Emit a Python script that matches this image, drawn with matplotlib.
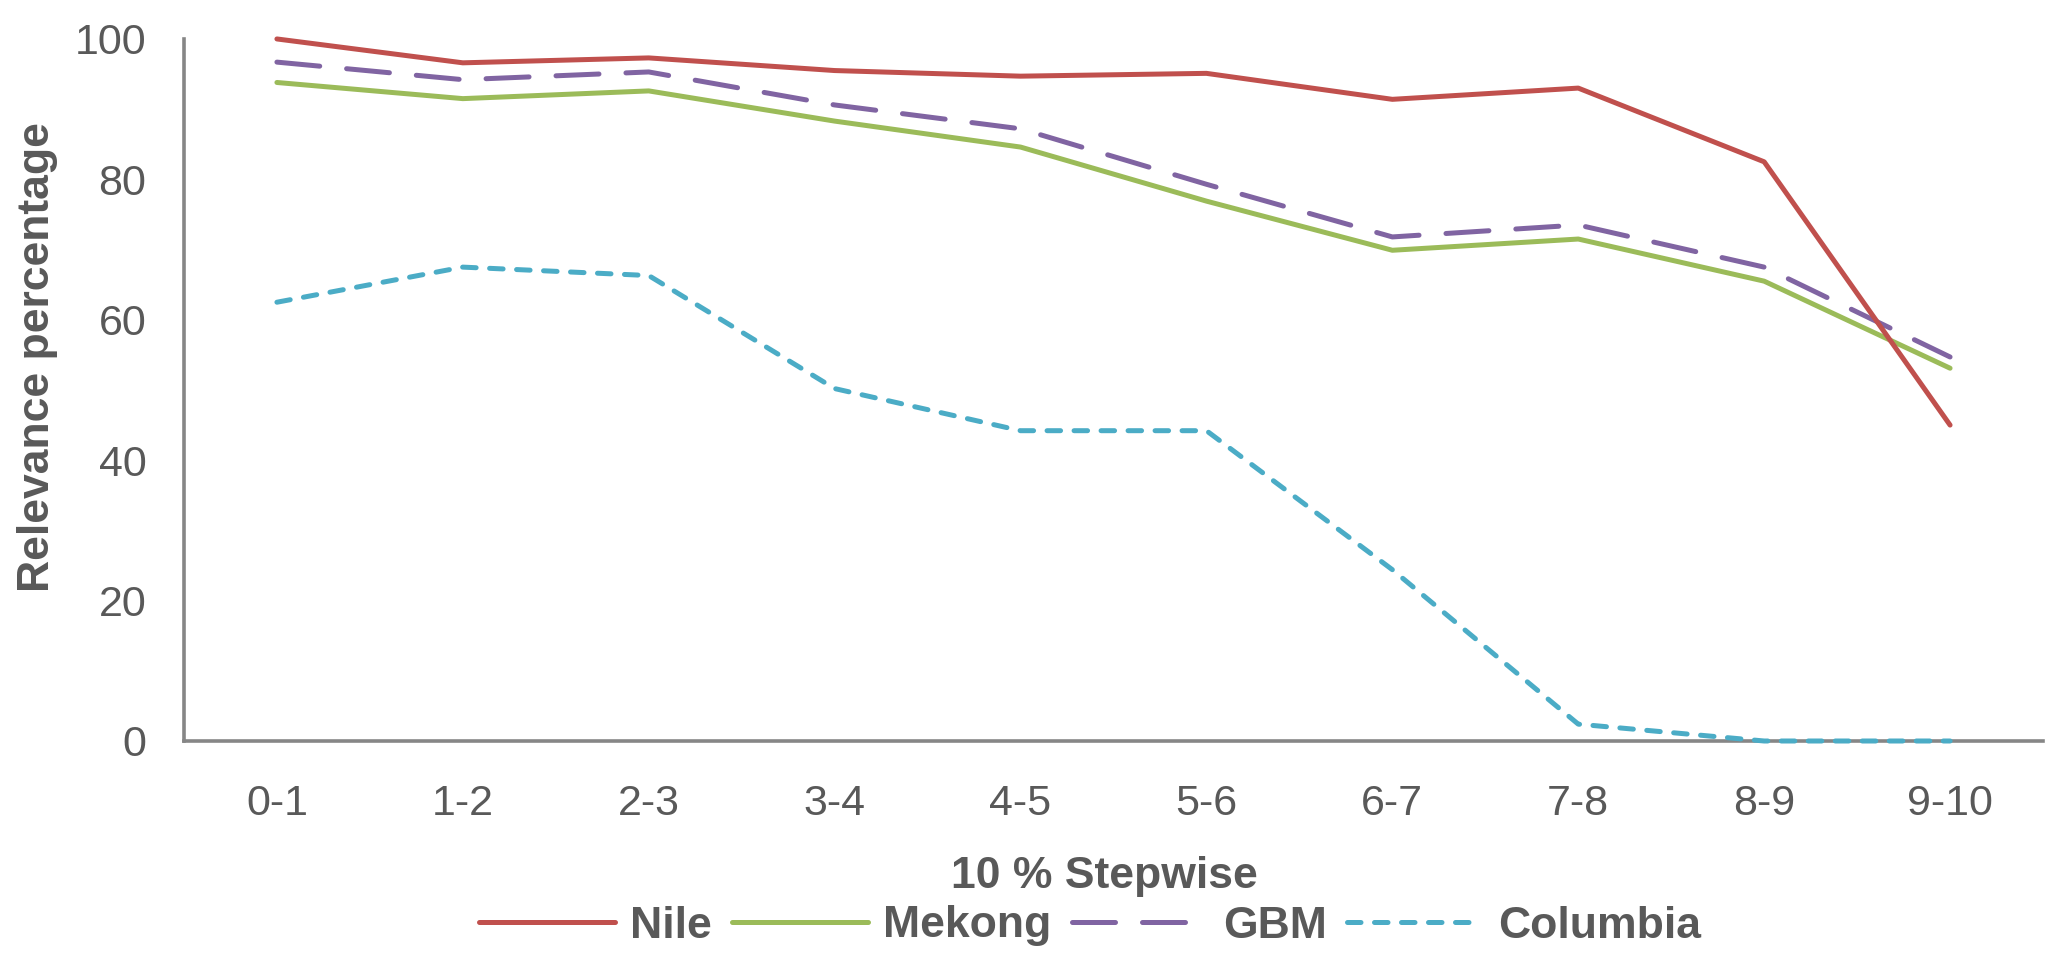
import matplotlib.pyplot as plt

# dane z wykresu
kroki = ['0-1', '1-2', '2-3', '3-4', '4-5', '5-6', '6-7', '7-8', '8-9', '9-10']
nile = [100.0, 96.6, 97.3, 95.5, 94.7, 95.1, 91.4, 93.0, 82.5, 45.0]
mekong = [93.8, 91.5, 92.6, 88.3, 84.6, 76.9, 69.9, 71.5, 65.5, 53.1]
gbm = [96.7, 94.2, 95.3, 90.6, 87.2, 79.3, 71.8, 73.5, 67.5, 54.7]
columbia = [62.5, 67.5, 66.3, 50.2, 44.2, 44.2, 24.4, 2.4, 0.0, 0.0]

szary = '#595959'
plt.rcParams['font.family'] = ['Liberation Sans', 'DejaVu Sans']

fig = plt.figure(figsize=(20.67, 9.69), dpi=100)
ax = fig.add_axes([0.0890, 0.2353, 0.8994, 0.7245])

x = range(len(kroki))
lw = 3.6
ax.plot(x, nile, color='#C0504D', lw=lw, solid_capstyle='round', label='Nile', clip_on=False, zorder=4)
ax.plot(x, mekong, color='#9BBB59', lw=lw, solid_capstyle='round', label='Mekong', clip_on=False, zorder=3)
ax.plot(x, gbm, color='#8064A2', lw=lw, linestyle=(0, (8.6, 5.4)), dash_capstyle='round', label='GBM', clip_on=False, zorder=3)
ax.plot(x, columbia, color='#4BACC6', lw=lw, linestyle=(0, (2.7, 2.7)), dash_capstyle='round', label='Columbia', clip_on=False, zorder=5)

ax.set_xlim(-0.5, len(kroki) - 0.5)
ax.set_ylim(0, 100)
ax.set_yticks([0, 20, 40, 60, 80, 100])
ax.set_xticks(list(x))
ax.set_xticklabels(kroki)

for s in ['top', 'right']:
    ax.spines[s].set_visible(False)
for s in ['left', 'bottom']:
    ax.spines[s].set_color('#868686')
    ax.spines[s].set_linewidth(2.6)
ax.tick_params(axis='both', length=0, labelsize=31, labelcolor=szary)
ax.tick_params(axis='y', pad=27)
ax.tick_params(axis='x', pad=31)

fig.text(38 / 2067, 1 - 357 / 969, 'Relevance percentage', rotation=90, ha='center', va='center',
         fontsize=32, fontweight='bold', color=szary)
fig.text(1104 / 2067, 1 - 888 / 969, '10 % Stepwise', ha='center', va='baseline',
         fontsize=32, fontweight='bold', color=szary)

leg = fig.legend(loc='center', bbox_to_anchor=(1090 / 2067, 1 - 926 / 969), ncol=4, frameon=False,
                 prop={'size': 32, 'weight': 'bold'}, labelcolor=szary, handlelength=3.05,
                 handletextpad=0.35, columnspacing=0.45, borderpad=0, borderaxespad=0)

fig.savefig('out.png', dpi=100)
